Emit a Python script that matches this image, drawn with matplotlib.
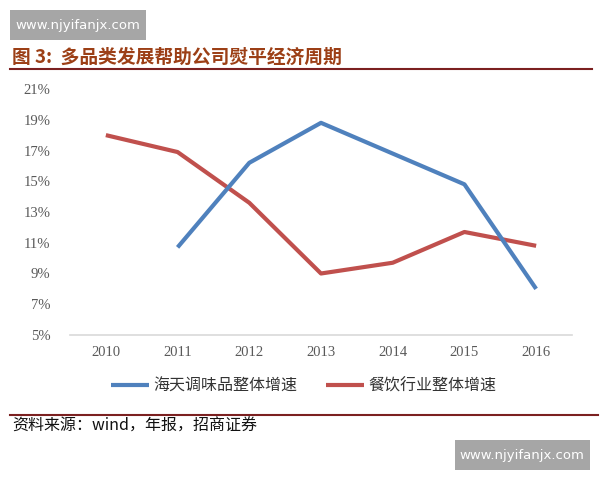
import matplotlib
matplotlib.use("Agg")
import matplotlib.pyplot as plt
from matplotlib.patches import Rectangle
from matplotlib.lines import Line2D

plt.rcParams['font.family'] = ['Noto Sans CJK SC', 'DejaVu Sans']

years = ['2010', '2011', '2012', '2013', '2014', '2015', '2016']
haitian = [None, 10.7, 16.2, 18.8, 16.8, 14.8, 8.0]
canyin = [18.0, 16.9, 13.6, 9.0, 9.7, 11.7, 10.8]
yticks = [5, 7, 9, 11, 13, 15, 17, 19, 21]
series_names = ['海天调味品整体增速', '餐饮行业整体增速']
title = '图 3:  多品类发展帮助公司熨平经济周期'
source = '资料来源：wind，年报，招商证券'
watermark = 'www.njyifanjx.com'

BLUE = '#4F81BD'
RED = '#C0504D'

fig = plt.figure(figsize=(6, 4.8), dpi=100)
W, H = 600, 480
ax = fig.add_axes([70 / W, 1 - 335 / H, (572 - 70) / W, (335 - 89) / H])

x = list(range(len(years)))
hx = [i for i, v in zip(x, haitian) if v is not None]
hy = [v for v in haitian if v is not None]
ax.plot(hx, hy, color=BLUE, lw=3, solid_capstyle='butt', label=series_names[0], zorder=3)
ax.plot(x, canyin, color=RED, lw=3, solid_capstyle='butt', label=series_names[1], zorder=2)

ax.set_xlim(-0.5, len(years) - 0.5)
ax.set_ylim(5, 21)
ax.set_yticks(yticks)
ax.set_yticklabels([f'{t}%' for t in yticks], family='Liberation Serif', fontsize=10.5, color='#595959')
ax.set_xticks(x)
ax.set_xticklabels(years, family='Liberation Serif', fontsize=10.5, color='#595959')
ax.tick_params(axis='y', length=0, pad=14)
ax.tick_params(axis='x', length=0, pad=8)
for s in ['top', 'right', 'left']:
    ax.spines[s].set_visible(False)
ax.spines['bottom'].set_color('#D9D9D9')
ax.spines['bottom'].set_linewidth(1.2)

ax.legend(loc='center', bbox_to_anchor=(303.5 / W, 1 - 386 / H),
          bbox_transform=fig.transFigure, ncol=2, frameon=False,
          handlelength=2.4, handletextpad=0.25, columnspacing=1.8,
          prop={'family': ['Noto Sans CJK SC'], 'size': 11.5}, labelcolor='#333333')

# title
fig.text(12 / W, 1 - 57 / H, title, fontsize=13.5, fontweight='bold', color='#9C3F16',
         va='center', ha='left')
fig.add_artist(Line2D([10 / W, 592 / W], [1 - 69 / H, 1 - 69 / H], color='#7B2020', lw=1.5))

# source
fig.add_artist(Line2D([10 / W, 598 / W], [1 - 415 / H, 1 - 415 / H], color='#7B2020', lw=1.5))
fig.text(12 / W, 1 - 426 / H, source, fontsize=11.5, color='#111111', va='center', ha='left')

# watermarks
fig.add_artist(Rectangle((10 / W, 1 - 40 / H), 136 / W, 30 / H, transform=fig.transFigure,
                         facecolor='#A6A6A6', edgecolor='none'))
fig.text(78 / W, 1 - 25 / H, watermark, fontsize=9.5, color='white', va='center', ha='center',
         family='DejaVu Sans')
fig.add_artist(Rectangle((455 / W, 1 - 470 / H), 135 / W, 30 / H, transform=fig.transFigure,
                         facecolor='#A6A6A6', edgecolor='none'))
fig.text(522 / W, 1 - 455 / H, watermark, fontsize=9.5, color='white', va='center', ha='center',
         family='DejaVu Sans')

fig.savefig('out.png', dpi=100)
